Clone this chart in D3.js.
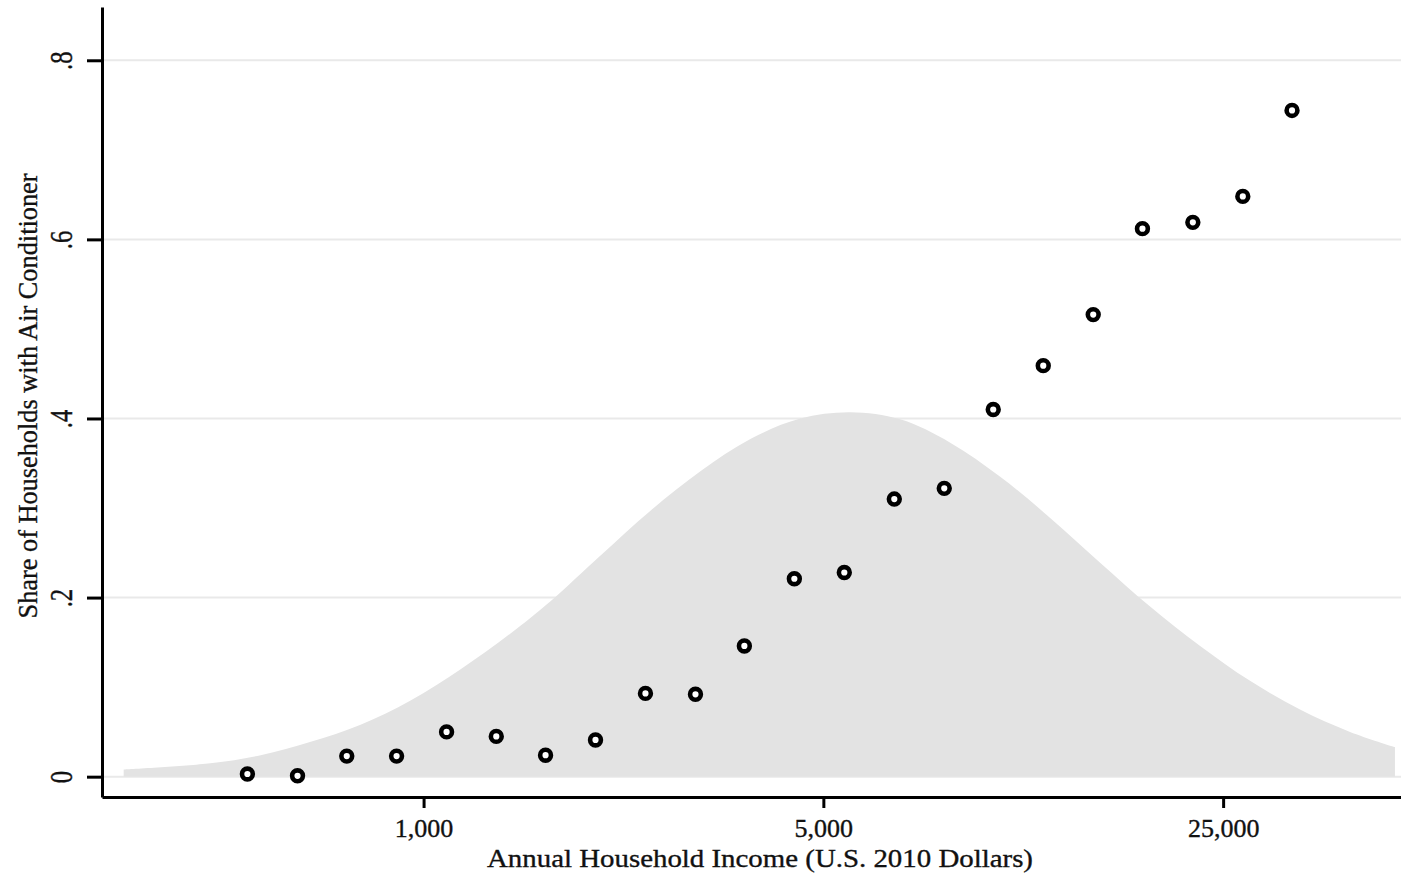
<!DOCTYPE html>
<html>
<head>
<meta charset="utf-8">
<script src="https://cdn.jsdelivr.net/npm/d3@7"></script>
<style>
  body { margin: 0; background: #fff; }
  text { font-family: "Liberation Serif", "Times New Roman", serif; fill: #111; stroke: #111; stroke-width: 0.35px; }
</style>
</head>
<body>
<div id="chart"></div>
<script>
// binned scatter: household income (2010 USD) vs share with AC
var incomeBins = [492, 602, 734, 897, 1097, 1340, 1634, 1998, 2443, 2988, 3638,
  4449, 5440, 6653, 8135, 9908, 12118, 14818, 18066, 22130, 27060, 32990];
var acShare = [0.003, 0.001, 0.023, 0.023, 0.050, 0.045, 0.024, 0.041, 0.093, 0.092, 0.146,
  0.221, 0.228, 0.310, 0.322, 0.410, 0.459, 0.516, 0.612, 0.619, 0.648, 0.744];

// income distribution (density, drawn on the share axis)
var densityIncome = [299, 424, 519, 635, 776, 949, 1161, 1419, 1667, 2039, 2493, 3048, 3727,
  4556, 5573, 6815, 8333, 10190, 12460, 15235, 18630, 22790, 27860, 34070, 41670, 49930];
var densityHeight = [0.008, 0.015, 0.024, 0.039, 0.058, 0.085, 0.120, 0.160, 0.196, 0.247, 0.297, 0.341, 0.377,
  0.400, 0.407, 0.399, 0.373, 0.335, 0.289, 0.239, 0.190, 0.146, 0.107, 0.075, 0.050, 0.033];

var xTicks = [1000, 5000, 25000];
var yTicks = [0, 0.2, 0.4, 0.6, 0.8];

var width = 1401, height = 873;

var svg = d3.select('#chart').append('svg')
  .attr('width', width)
  .attr('height', height);

var x = d3.scaleLog().domain([274, 51160]).range([102, 1401]);
var y = d3.scaleLinear().domain([-0.0227, 0.8595]).range([797, 7]);

// gridlines
svg.append('g')
  .selectAll('line')
  .data(yTicks)
  .enter().append('line')
  .attr('x1', 104).attr('x2', width)
  .attr('y1', function(d) { return y(d); })
  .attr('y2', function(d) { return y(d); })
  .attr('stroke', '#e9e9e9')
  .attr('stroke-width', 2);

// density
var dens = densityIncome.map(function(d, i) { return {income: d, h: densityHeight[i]}; });
var area = d3.area()
  .x(function(d) { return x(d.income); })
  .y0(y(0))
  .y1(function(d) { return y(d.h); })
  .curve(d3.curveCatmullRom.alpha(0.5));

svg.append('path')
  .datum(dens)
  .attr('d', area)
  .attr('fill', '#e3e3e3');

// axes
var yAxis = svg.append('g')
  .attr('transform', 'translate(102,0)')
  .call(d3.axisLeft(y).tickValues(yTicks).tickSize(15).tickSizeOuter(0)
    .tickFormat(function(d) { return d === 0 ? '0' : d3.format('.1f')(d).replace(/^0/, ''); }));

yAxis.selectAll('text')
  .attr('x', null).attr('dy', null)
  .attr('text-anchor', 'middle')
  .attr('transform', 'translate(-30,0) rotate(-90) scale(0.95,1.2)')
  .style('font-size', '26px');

var xAxis = svg.append('g')
  .attr('transform', 'translate(0,797)')
  .call(d3.axisBottom(x).tickValues(xTicks).tickSize(11).tickSizeOuter(0)
    .tickFormat(d3.format(',')));

xAxis.selectAll('text')
  .attr('y', 40).attr('dy', null)
  .style('font-size', '26px');

svg.selectAll('.domain, .tick line')
  .attr('stroke', '#000')
  .attr('stroke-width', 3);

// axis titles
svg.append('text')
  .attr('x', 760).attr('y', 867)
  .attr('text-anchor', 'middle')
  .attr('textLength', 546)
  .attr('lengthAdjust', 'spacingAndGlyphs')
  .style('font-size', '26px')
  .text('Annual Household Income (U.S. 2010 Dollars)');

svg.append('text')
  .attr('transform', 'translate(37,396) rotate(-90)')
  .attr('text-anchor', 'middle')
  .attr('textLength', 445)
  .attr('lengthAdjust', 'spacingAndGlyphs')
  .style('font-size', '28px')
  .text('Share of Households with Air Conditioner');

// points
svg.append('g')
  .selectAll('circle')
  .data(incomeBins)
  .enter().append('circle')
  .attr('cx', function(d) { return x(d); })
  .attr('cy', function(d, i) { return y(acShare[i]); })
  .attr('r', 5.4)
  .attr('fill', '#fff')
  .attr('stroke', '#000')
  .attr('stroke-width', 4.6);
</script>
</body>
</html>
